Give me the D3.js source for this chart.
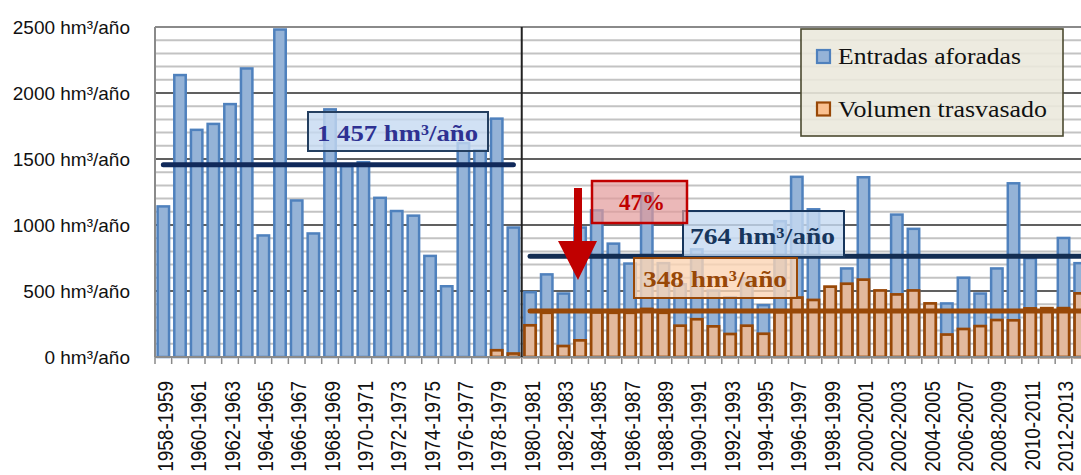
<!DOCTYPE html>
<html lang="es">
<head>
    <meta charset="UTF-8">
    <title>Entradas aforadas y volumen trasvasado</title>
    <script src="https://cdn.jsdelivr.net/npm/d3@7/dist/d3.min.js"></script>
    <style>
        body { margin: 0; background: #fff; }
        .yaxis text { font-family: "Liberation Sans", Arial, sans-serif; font-size: 19px; fill: #111; }
        .xlab { font-family: "Liberation Sans", Arial, sans-serif; font-size: 19px; fill: #111; }
        .serif { font-family: "Liberation Serif", "Times New Roman", serif; }
    </style>
</head>
<body>
<script>
    // años hidrológicos
    const years = [
        '1958-1959', '1959-1960', '1960-1961', '1961-1962', '1962-1963', '1963-1964', '1964-1965',
        '1965-1966', '1966-1967', '1967-1968', '1968-1969', '1969-1970', '1970-1971', '1971-1972',
        '1972-1973', '1973-1974', '1974-1975', '1975-1976', '1976-1977', '1977-1978', '1978-1979',
        '1979-1980', '1980-1981', '1981-1982', '1982-1983', '1983-1984', '1984-1985', '1985-1986',
        '1986-1987', '1987-1988', '1988-1989', '1989-1990', '1990-1991', '1991-1992', '1992-1993',
        '1993-1994', '1994-1995', '1995-1996', '1996-1997', '1997-1998', '1998-1999', '1999-2000',
        '2000-2001', '2001-2002', '2002-2003', '2003-2004', '2004-2005', '2005-2006', '2006-2007',
        '2007-2008', '2008-2009', '2009-2010', '2010-2011', '2011-2012', '2012-2013', '2013-2014'
    ];

    // Entradas aforadas (hm³/año)
    const entradas = [
        1150, 2145, 1730, 1775, 1925, 2195, 930, 2490, 1195, 945, 1885, 1455, 1485, 1215,
        1115, 1080, 775, 545, 1630, 1575, 1815, 990, 500, 635, 490, 990, 1120, 868,
        717, 1250, 720, 560, 825, 512, 462, 605, 402, 1038, 1374, 1128, 430, 680,
        1371, 470, 1088, 980, 390, 415, 610, 490, 680, 1325, 758, 340, 911, 720
    ];

    // Volumen trasvasado (hm³/año)
    const trasvasado = [
        0, 0, 0, 0, 0, 0, 0, 0, 0, 0, 0, 0, 0, 0,
        0, 0, 0, 0, 0, 0, 61, 36, 250, 345, 93, 136, 348, 345,
        345, 374, 345, 247, 296, 242, 184, 247, 186, 350, 460, 442, 543, 565,
        596, 514, 484, 514, 416, 180, 222, 244, 290, 288, 378, 380, 380, 492
    ];

    const yTicks = [0, 500, 1000, 1500, 2000, 2500];
    const mediaAntes = 1457;   // 1958-1980
    const mediaDespues = 764;  // 1980-2014
    const mediaTrasvase = 348;
    const splitYear = '1980-1981';

    const w = 1081, h = 475;
    const padLeft = 155, padTop = 27, baseY = 357;
    const step = 16.67;

    const svg = d3.select('body').append('svg')
        .attr('width', w)
        .attr('height', h);

    const xb = d3.scaleBand()
        .domain(years)
        .range([padLeft, padLeft + years.length * step]);

    const x = d3.scaleBand()
        .domain(years)
        .range([padLeft, padLeft + years.length * step])
        .paddingInner(0.17)
        .paddingOuter(0.085);

    const y = d3.scaleLinear()
        .domain([0, 2500])
        .range([baseY, padTop]);

    // rejilla secundaria
    svg.append('g').selectAll('line')
        .data(y.ticks(25).filter(d => d % 500 !== 0))
        .enter().append('line')
        .attr('x1', padLeft).attr('x2', w)
        .attr('y1', d => y(d)).attr('y2', d => y(d))
        .attr('stroke', '#c3c3c3')
        .attr('stroke-width', 2);

    // rejilla principal
    svg.append('g').selectAll('line')
        .data(yTicks.filter(d => d > 0 && d < 2500))
        .enter().append('line')
        .attr('x1', padLeft).attr('x2', w)
        .attr('y1', d => y(d)).attr('y2', d => y(d))
        .attr('stroke', '#2b2b2b')
        .attr('stroke-width', 1.3);

    // borde superior e izquierdo
    svg.append('line')
        .attr('x1', padLeft).attr('x2', w)
        .attr('y1', y(2500)).attr('y2', y(2500))
        .attr('stroke', '#8a8a8a').attr('stroke-width', 2);
    svg.append('line')
        .attr('x1', padLeft).attr('x2', padLeft)
        .attr('y1', y(2500)).attr('y2', y(0))
        .attr('stroke', '#8a8a8a').attr('stroke-width', 2);

    // barras azules
    svg.append('g').selectAll('rect')
        .data(years)
        .enter().append('rect')
        .attr('x', d => x(d) + 1.2)
        .attr('y', (d, i) => y(entradas[i]) + 1.2)
        .attr('width', x.bandwidth() - 2.4)
        .attr('height', (d, i) => Math.max(0, y(0) - y(entradas[i]) - 1.2))
        .attr('fill', '#95b3d7')
        .attr('stroke', '#4f81bd')
        .attr('stroke-width', 2.5);

    // barras naranjas
    svg.append('g').selectAll('rect')
        .data(years.filter((d, i) => trasvasado[i] > 0))
        .enter().append('rect')
        .attr('x', d => x(d) + 1.3)
        .attr('y', d => y(trasvasado[years.indexOf(d)]) + 1.3)
        .attr('width', x.bandwidth() - 2.6)
        .attr('height', d => Math.max(0, y(0) - y(trasvasado[years.indexOf(d)]) - 1.3))
        .attr('fill', '#e3b99d')
        .attr('stroke', '#984807')
        .attr('stroke-width', 2.7);

    // eje inferior
    svg.append('line')
        .attr('x1', padLeft).attr('x2', w)
        .attr('y1', baseY).attr('y2', baseY)
        .attr('stroke', '#8a8a8a').attr('stroke-width', 2);
    svg.append('g').selectAll('line')
        .data(years)
        .enter().append('line')
        .attr('x1', d => xb(d)).attr('x2', d => xb(d))
        .attr('y1', baseY).attr('y2', baseY + 7)
        .attr('stroke', '#8a8a8a').attr('stroke-width', 1.5);

    // etiquetas del eje x (una de cada dos)
    svg.append('g').selectAll('text')
        .data(years.filter((d, i) => i % 2 === 0))
        .enter().append('text')
        .attr('class', 'xlab')
        .attr('text-anchor', 'end')
        .attr('transform', d => 'translate(' + (xb(d) + xb.bandwidth() / 2 + 9.5) + ',381) rotate(-90) scale(1,1.15)')
        .text(d => d);

    // eje y
    const yAxis = d3.axisLeft(y)
        .tickValues(yTicks)
        .tickSize(0)
        .tickPadding(25)
        .tickFormat(d => d + ' hm³/año');
    svg.append('g')
        .attr('class', 'yaxis')
        .attr('transform', 'translate(' + padLeft + ',0)')
        .call(yAxis)
        .call(g => g.select('.domain').remove());

    // separación 1980
    svg.append('line')
        .attr('x1', xb(splitYear)).attr('x2', xb(splitYear))
        .attr('y1', y(2500)).attr('y2', y(0))
        .attr('stroke', '#222').attr('stroke-width', 2);

    const c = d => xb(d) + xb.bandwidth() / 2;

    // medias
    svg.append('line')
        .attr('x1', c(years[0])).attr('x2', c('1979-1980'))
        .attr('y1', y(mediaAntes)).attr('y2', y(mediaAntes))
        .attr('stroke', '#10295a').attr('stroke-width', 5).attr('stroke-linecap', 'round');
    svg.append('line')
        .attr('x1', c(splitYear)).attr('x2', w + 10)
        .attr('y1', y(mediaDespues)).attr('y2', y(mediaDespues))
        .attr('stroke', '#132d52').attr('stroke-width', 5).attr('stroke-linecap', 'round');
    svg.append('line')
        .attr('x1', c(splitYear)).attr('x2', w + 10)
        .attr('y1', y(mediaTrasvase)).attr('y2', y(mediaTrasvase))
        .attr('stroke', '#984807').attr('stroke-width', 5).attr('stroke-linecap', 'round');

    // cajas de anotación
    function box(x0, y0, bw, bh, fill, op, stroke) {
        svg.append('rect')
            .attr('x', x0).attr('y', y0)
            .attr('width', bw).attr('height', bh)
            .attr('fill', fill).attr('fill-opacity', op)
            .attr('stroke', stroke).attr('stroke-width', 2);
    }
    function label(tx, ty, txt, len, color, size) {
        svg.append('text')
            .attr('class', 'serif')
            .attr('x', tx).attr('y', ty)
            .attr('font-size', size)
            .attr('font-weight', 'bold')
            .attr('fill', color)
            .attr('textLength', len)
            .attr('lengthAdjust', 'spacingAndGlyphs')
            .text(txt);
    }

    box(308, 112, 180, 39, '#c6d9f1', 0.8, '#243f60');
    label(317, 140.5, '1 457 hm³/año', 161, '#2e3192', 23);

    box(683, 211, 161, 46, '#c6d9f1', 0.8, '#17365d');
    label(690, 243.5, '764 hm³/año', 145, '#17365d', 23);

    box(634, 258, 163, 40, '#fbd4b4', 0.8, '#984807');
    label(643, 287, '348 hm³/año', 144, '#984807', 23);

    svg.append('rect')
        .attr('x', 592).attr('y', 181)
        .attr('width', 95).attr('height', 42)
        .attr('fill', '#e39a9a').attr('fill-opacity', 0.7)
        .attr('stroke', '#c00000').attr('stroke-width', 2.5);
    label(619, 210, '47%', 46, '#c00000', 23);

    // flecha
    svg.append('path')
        .attr('d', 'M574,188 L582,188 L582,241 L597,241 L578,280 L558,241 L574,241 Z')
        .attr('fill', '#c00000');

    // leyenda
    svg.append('rect')
        .attr('x', 801).attr('y', 29)
        .attr('width', 262).attr('height', 107)
        .attr('fill', '#ebe8dc').attr('fill-opacity', 0.88)
        .attr('stroke', '#4b4a30').attr('stroke-width', 1.6);

    const legend = [
        { name: 'Entradas aforadas', fill: '#95b3d7', stroke: '#4f81bd', ty: 64, len: 183 },
        { name: 'Volumen trasvasado', fill: '#fac090', stroke: '#984807', ty: 116.5, len: 209 }
    ];
    const lg = svg.append('g').selectAll('g')
        .data(legend)
        .enter().append('g');
    lg.append('rect')
        .attr('x', 817).attr('y', d => d.ty - 14)
        .attr('width', 13).attr('height', 13)
        .attr('fill', d => d.fill)
        .attr('stroke', d => d.stroke)
        .attr('stroke-width', 2.2);
    lg.append('text')
        .attr('class', 'serif')
        .attr('x', 838).attr('y', d => d.ty)
        .attr('font-size', 23)
        .attr('fill', '#111')
        .attr('textLength', d => d.len)
        .attr('lengthAdjust', 'spacingAndGlyphs')
        .text(d => d.name);
</script>
</body>
</html>
